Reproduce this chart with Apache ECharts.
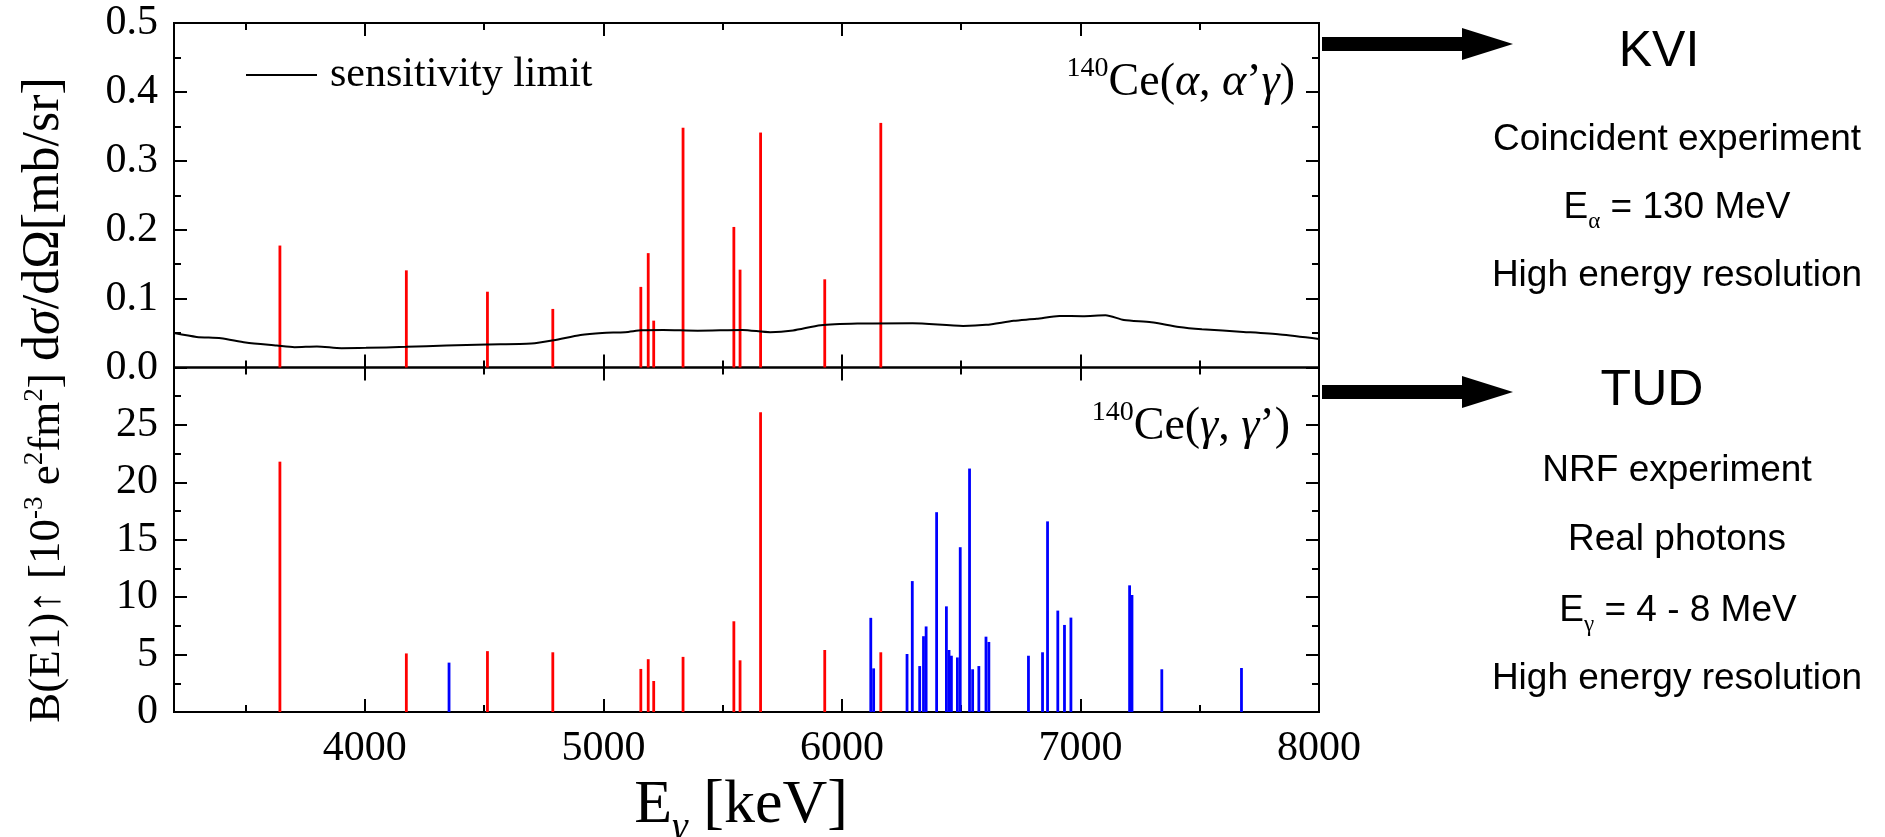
<!DOCTYPE html>
<html>
<head>
<meta charset="utf-8">
<script src="https://cdn.jsdelivr.net/npm/echarts@6/dist/echarts.min.js"></script>
<style>
  html, body { margin: 0; padding: 0; background: #fff; }
  #chart { width: 1885px; height: 837px; }
</style>
</head>
<body>
<div id="chart"></div>
<script>
// Gamma energies (keV) of the states seen in the coincidence experiment
const kviEnergy = [3644, 4174, 4514, 4788, 5157, 5188, 5211, 5334, 5547, 5573, 5659, 5928, 6163];
// (alpha, alpha' gamma) cross sections of those states, mb/sr
const kviCrossSection = [0.177, 0.141, 0.110, 0.085, 0.117, 0.166, 0.068, 0.348, 0.204, 0.142, 0.341, 0.128, 0.355];
// B(E1) strengths of the same states from (gamma, gamma'), 10^-3 e^2 fm^2
const kviBE1 = [21.8, 5.1, 5.3, 5.2, 3.75, 4.6, 2.7, 4.8, 7.9, 4.5, 26.1, 5.4, 5.2];

// States seen only in (gamma, gamma')
const tudEnergy = [4353, 6121, 6133, 6273, 6295, 6326, 6342, 6353, 6397, 6438, 6449, 6459, 6484, 6496,
                   6535, 6548, 6574, 6604, 6616, 6782, 6841, 6862, 6905, 6933, 6960, 7206, 7216, 7341, 7675];
const tudBE1 = [4.3, 8.2, 3.8, 5.05, 11.4, 4.0, 6.6, 7.45, 17.4, 9.2, 5.4, 4.9, 4.75, 14.35,
                21.2, 3.72, 4.0, 6.56, 6.1, 4.9, 5.2, 16.6, 8.83, 7.58, 8.22, 11.03, 10.19, 3.72, 3.83];

// Sensitivity limit of the coincidence measurement
const limitEnergy = [3200, 3295, 3397, 3500, 3631, 3705, 3799, 3902, 4005, 4173, 4342, 4511, 4698, 4792,
                     4904, 4995, 5091, 5160, 5250, 5395, 5583, 5699, 5795, 5911, 6065, 6296, 6508, 6604,
                     6720, 6816, 6912, 7009, 7105, 7182, 7297, 7413, 7509, 7683, 7837, 8000];
const limitValue = [0.050, 0.0444, 0.0425, 0.0363, 0.0319, 0.0295, 0.0305, 0.028, 0.0285, 0.030, 0.0319, 0.0334, 0.0348, 0.0396,
                    0.0473, 0.0502, 0.0512, 0.054, 0.0546, 0.0535, 0.0546, 0.0512, 0.0537, 0.0614, 0.0638, 0.0643, 0.0604, 0.0619,
                    0.0677, 0.0706, 0.0749, 0.0745, 0.0759, 0.069, 0.0657, 0.0589, 0.0556, 0.0517, 0.0479, 0.0415];

// Axis ranges and tick positions
const energyRange = [3200, 8000];
const energyMajorTicks = [4000, 5000, 6000, 7000, 8000];
const energyMinorTicks = [3500, 4500, 5500, 6500, 7500];
const sigmaRange = [0, 0.5];
const sigmaMajorTicks = [0, 0.1, 0.2, 0.3, 0.4, 0.5];
const sigmaMinorTicks = [0.05, 0.15, 0.25, 0.35, 0.45];
const be1Range = [0, 30];
const be1MajorTicks = [0, 5, 10, 15, 20, 25, 30];
const be1MinorTicks = [2.5, 7.5, 12.5, 17.5, 22.5, 27.5];
const be1Labels = [0, 5, 10, 15, 20, 25];

const SERIF = "'Liberation Serif', 'Times New Roman', serif";
const SANS = "'Liberation Sans', Arial, sans-serif";
const RED = '#ff0000';
const BLUE = '#0000ff';
const TICK_FONT = 42;

const pairs = (xs, ys) => xs.map((x, i) => [x, ys[i]]);

function xAxisFor(grid, position, ticks, len, labels) {
  return {
    type: 'value', gridIndex: grid, position: position,
    min: energyRange[0], max: energyRange[1],
    axisLine: { show: false, onZero: false },
    splitLine: { show: false },
    axisTick: { show: true, inside: true, length: len, customValues: ticks,
                lineStyle: { color: '#000', width: 2 } },
    axisLabel: labels
      ? { show: true, customValues: labels, margin: 16, color: '#000', fontFamily: SERIF,
          fontSize: TICK_FONT, formatter: v => String(v) }
      : { show: false }
  };
}

function yAxisFor(grid, position, range, ticks, len, labels, fmt) {
  return {
    type: 'value', gridIndex: grid, position: position,
    min: range[0], max: range[1],
    axisLine: { show: false, onZero: false },
    splitLine: { show: false },
    axisTick: { show: true, inside: true, length: len, customValues: ticks,
                lineStyle: { color: '#000', width: 2 } },
    axisLabel: labels
      ? { show: true, customValues: labels, margin: 16, color: '#000', fontFamily: SERIF,
          fontSize: TICK_FONT, formatter: fmt }
      : { show: false }
  };
}

// vertical stick from zero up to the value
function stick(color) {
  return function (params, api) {
    const base = api.coord([api.value(0), 0]);
    const top = api.coord([api.value(0), api.value(1)]);
    return {
      type: 'rect',
      shape: { x: base[0] - 1.4, y: top[1], width: 2.8, height: base[1] - top[1] },
      style: { fill: color }
    };
  };
}

const serifRich = (size, supSize, lift) => ({
  rm: { fontFamily: SERIF, fontSize: size, lineHeight: size, verticalAlign: 'bottom', color: '#000' },
  gr: { fontFamily: SERIF, fontSize: size, lineHeight: size, verticalAlign: 'bottom', fontStyle: 'italic', color: '#000' },
  sup: { fontFamily: SERIF, fontSize: supSize, lineHeight: supSize, verticalAlign: 'bottom',
         padding: [0, 0, lift, 0], color: '#000' }
});

function arrowAt(yc) {
  return {
    type: 'polygon',
    shape: { points: [[1322, yc - 7], [1462, yc - 7], [1462, yc - 16], [1513, yc],
                      [1462, yc + 16], [1462, yc + 7], [1322, yc + 7]] },
    style: { fill: '#000' }
  };
}

function sansText(text, x, y, size) {
  return { type: 'text', x: x, y: y,
           style: { text: text, fontFamily: SANS, fontSize: size, fill: '#000', align: 'center', verticalAlign: 'middle' } };
}

function sansLine(text, x, yTop, size) {
  return {
    type: 'text', x: x, y: yTop,
    style: {
      text: text, align: 'center', verticalAlign: 'top',
      rich: {
        m: { fontFamily: SANS, fontSize: size, lineHeight: size, verticalAlign: 'top', color: '#000' },
        s: { fontFamily: SERIF, fontSize: 23, lineHeight: 23, verticalAlign: 'top',
             padding: [21, 0, 0, 0], color: '#000' }
      }
    }
  };
}

const chart = echarts.init(document.getElementById('chart'), null, { renderer: 'canvas', width: 1885, height: 837 });

chart.setOption({
  animation: false,
  backgroundColor: '#fff',
  grid: [
    { left: 174, top: 23, width: 1145, height: 344.5, show: true, borderColor: '#000', borderWidth: 2, backgroundColor: 'transparent' },
    { left: 174, top: 367.5, width: 1145, height: 344.5, show: true, borderColor: '#000', borderWidth: 2, backgroundColor: 'transparent' }
  ],
  xAxis: [
    xAxisFor(0, 'bottom', energyMajorTicks, 13, null),
    xAxisFor(0, 'bottom', energyMinorTicks, 7, null),
    xAxisFor(0, 'top', energyMajorTicks, 13, null),
    xAxisFor(0, 'top', energyMinorTicks, 7, null),
    xAxisFor(1, 'bottom', energyMajorTicks, 13, energyMajorTicks),
    xAxisFor(1, 'bottom', energyMinorTicks, 7, null),
    xAxisFor(1, 'top', energyMajorTicks, 13, null),
    xAxisFor(1, 'top', energyMinorTicks, 7, null)
  ],
  yAxis: [
    yAxisFor(0, 'left', sigmaRange, sigmaMajorTicks, 13, sigmaMajorTicks, v => Number(v).toFixed(1)),
    yAxisFor(0, 'left', sigmaRange, sigmaMinorTicks, 7, null),
    yAxisFor(0, 'right', sigmaRange, sigmaMajorTicks, 13, null),
    yAxisFor(0, 'right', sigmaRange, sigmaMinorTicks, 7, null),
    yAxisFor(1, 'left', be1Range, be1MajorTicks, 13, be1Labels, v => String(v)),
    yAxisFor(1, 'left', be1Range, be1MinorTicks, 7, null),
    yAxisFor(1, 'right', be1Range, be1MajorTicks, 13, null),
    yAxisFor(1, 'right', be1Range, be1MinorTicks, 7, null)
  ],
  legend: {
    data: [{ name: 'sensitivity limit', icon: 'rect' }],
    left: 241, top: 49,
    itemWidth: 71, itemHeight: 2,
    selectedMode: false,
    itemStyle: { color: '#000' },
    textStyle: { fontFamily: SERIF, fontSize: 42, color: '#000', padding: [0, 0, 0, 8] }
  },
  series: [
    {
      type: 'line', name: 'sensitivity limit', xAxisIndex: 0, yAxisIndex: 0,
      data: pairs(limitEnergy, limitValue),
      symbol: 'none', smooth: 0.25, silent: true,
      lineStyle: { color: '#000', width: 2 }, itemStyle: { color: '#000' }
    },
    {
      type: 'custom', name: 'KVI cross section', xAxisIndex: 0, yAxisIndex: 0,
      data: pairs(kviEnergy, kviCrossSection), renderItem: stick(RED), silent: true
    },
    {
      type: 'custom', name: 'KVI B(E1)', xAxisIndex: 4, yAxisIndex: 4,
      data: pairs(kviEnergy, kviBE1), renderItem: stick(RED), silent: true
    },
    {
      type: 'custom', name: 'TUD B(E1)', xAxisIndex: 4, yAxisIndex: 4,
      data: pairs(tudEnergy, tudBE1), renderItem: stick(BLUE), silent: true
    }
  ],
  graphic: [
    // reaction labels inside the panels
    {
      type: 'text', x: 1295, y: 106,
      style: {
        text: '{sup|140}{rm|Ce(}{gr|α}{rm|, }{gr|α}{rm|’}{gr|γ}{rm|)}',
        align: 'right', verticalAlign: 'bottom', rich: serifRich(46, 28, 23)
      }
    },
    {
      type: 'text', x: 1290, y: 450,
      style: {
        text: '{sup|140}{rm|Ce(}{gr|γ}{rm|, }{gr|γ}{rm|’)}',
        align: 'right', verticalAlign: 'bottom', rich: serifRich(46, 28, 23)
      }
    },
    // axis titles
    {
      type: 'text', x: 44, y: 219, rotation: Math.PI / 2,
      style: {
        text: '{rm|d}{gr|σ}{rm|/dΩ[mb/sr]}',
        align: 'center', verticalAlign: 'middle', rich: serifRich(52, 30, 24)
      }
    },
    {
      type: 'text', x: 47, y: 548, rotation: Math.PI / 2,
      style: {
        text: '{rm|B(E1)↑ [10}{sup|-3}{rm| e}{sup|2}{rm|fm}{sup|2}{rm|]}',
        align: 'center', verticalAlign: 'middle', rich: serifRich(45, 27, 21)
      }
    },
    {
      type: 'text', x: 741, y: 775,
      style: {
        text: '{m|E}{s|γ}{m| [keV]}',
        align: 'center', verticalAlign: 'top',
        rich: {
          m: { fontFamily: SERIF, fontSize: 62, lineHeight: 62, verticalAlign: 'top', color: '#000' },
          s: { fontFamily: SERIF, fontSize: 40, lineHeight: 40, verticalAlign: 'top', fontStyle: 'italic',
               padding: [33, 0, 0, 0], color: '#000' }
        }
      }
    },
    // experiment descriptions
    arrowAt(44),
    arrowAt(392),
    sansText('KVI', 1659, 52, 50),
    sansText('Coincident experiment', 1677, 140, 37),
    sansLine('{m|E}{s|α}{m| = 130 MeV}', 1677, 189, 37),
    sansText('High energy resolution', 1677, 276, 37),
    sansText('TUD', 1652, 391, 50),
    sansText('NRF experiment', 1677, 471, 37),
    sansText('Real photons', 1677, 540, 37),
    sansLine('{m|E}{s|γ}{m| = 4 - 8 MeV}', 1678, 592, 37),
    sansText('High energy resolution', 1677, 679, 37)
  ]
});
</script>
</body>
</html>
